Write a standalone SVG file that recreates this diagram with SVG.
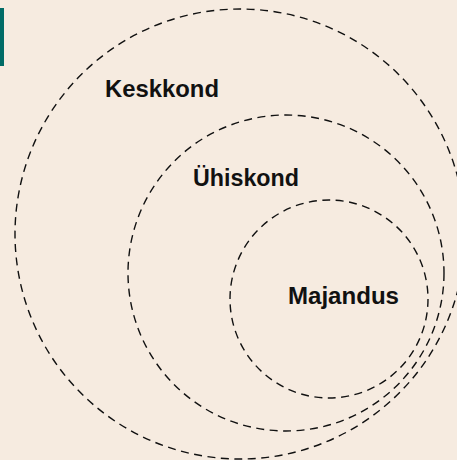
<svg xmlns="http://www.w3.org/2000/svg" width="457" height="460" viewBox="0 0 457 460">
<style>
.ring{fill:none;stroke:#111;stroke-width:1.4;stroke-dasharray:8 5.5}
.lbl{font-family:"Liberation Sans",Arial,sans-serif;font-weight:bold;font-size:23.5px;fill:#111}
</style>
<rect width="457" height="460" fill="#F6EBE0"/>
<rect x="0" y="8" width="4" height="58" fill="#006B66"/>
<g id="keskkond">
<circle class="ring" cx="240" cy="234" r="225"/>
<text class="lbl" x="105" y="97" textLength="114" lengthAdjust="spacingAndGlyphs">Keskkond</text>
</g>
<g id="uhiskond">
<circle class="ring" cx="286" cy="273" r="158"/>
<text class="lbl" x="193" y="186" textLength="106" lengthAdjust="spacingAndGlyphs">Ühiskond</text>
</g>
<g id="majandus">
<circle class="ring" cx="329" cy="299" r="99"/>
<text class="lbl" x="288" y="304" textLength="111" lengthAdjust="spacingAndGlyphs">Majandus</text>
</g>
<g id="connectors"/>
</svg>
